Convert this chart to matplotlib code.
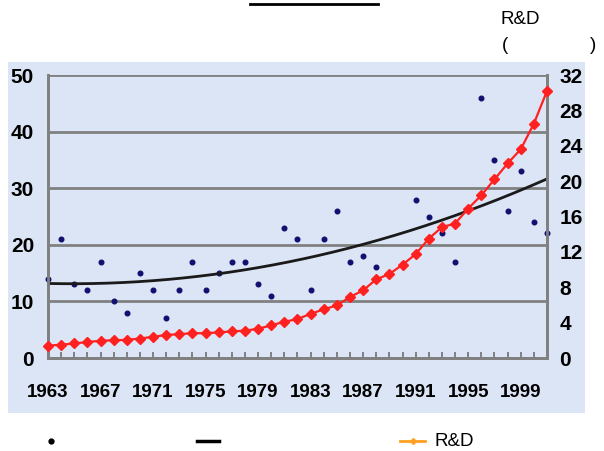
import numpy as np
import matplotlib.pyplot as plt
from matplotlib.patches import Rectangle
from matplotlib.lines import Line2D

# data
years = list(range(1963, 2002))
dots = [14, 21, 13, 12, 17, 10, 8, 15, 12, 7,
        12, 17, 12, 15, 17, 17, 13, 11, 23, 21,
        12, 21, 26, 17, 18, 16, np.nan, np.nan, 28, 25,
        22, 17, np.nan, 46, 35, 26, 33, 24, 22]
rnd = [1.4, 1.5, 1.65, 1.8, 1.95, 2.0, 2.05, 2.2, 2.4, 2.6,
       2.7, 2.8, 2.8, 2.9, 3.0, 3.1, 3.3, 3.7, 4.1, 4.4,
       5.0, 5.5, 5.95, 6.9, 7.65, 8.9, 9.5, 10.55, 11.75, 13.5,
       14.8, 15.2, 16.9, 18.4, 20.2, 22.0, 23.6, 26.5, 30.2]
year_labels = list(range(1963, 2000, 4))
left_ticks = [0, 10, 20, 30, 40, 50]
right_ticks = [0, 4, 8, 12, 16, 20, 24, 28, 32]

plt.rcParams['font.family'] = ['Liberation Sans', 'DejaVu Sans']

W, H = 604, 451
fig = plt.figure(figsize=(W / 100, H / 100), dpi=100)

# light blue panel behind the chart, in its own axes at the bottom
bg = fig.add_axes([0, 0, 1, 1], zorder=-5)
bg.set_xlim(0, W)
bg.set_ylim(H, 0)
bg.axis('off')
bg.add_patch(Rectangle((8, 62), 577, 351, facecolor='#dce5f5', edgecolor='none'))

ax = fig.add_axes([48 / W, 1 - 358 / H, 499 / W, 283 / H])
ax.set_facecolor('none')
ax2 = ax.twinx()

x = np.array(years)
y = np.array(dots, dtype=float)
ok = ~np.isnan(y)
coef = np.polyfit(x[ok] - 1963, y[ok], 2)
xs = np.linspace(1963, 2001, 200)
trend = np.polyval(coef, xs - 1963)

ax.scatter(x, y, s=11, color='#101070', zorder=3, clip_on=False)
ax.plot(xs, trend, color='#1a1a1a', lw=2, zorder=3)
ax2.plot(x, rnd, color='#ff2020', lw=1.6, marker='D', markersize=5.5,
         markeredgecolor='#ff2020', zorder=4, clip_on=False)

ax.set_xlim(1963, 2001)
ax.set_ylim(0, 50)
ax2.set_ylim(0, 32)

ax.set_yticks(left_ticks)
ax.grid(axis='y', color='#808080', lw=2)
ax.set_axisbelow(True)
ax.tick_params(axis='y', length=0, pad=10, labelsize=15)
for t in ax.get_yticklabels():
    t.set_fontweight('bold')

ax2.set_yticks(right_ticks)
ax2.tick_params(axis='y', length=0, pad=9, labelsize=15)
for t in ax2.get_yticklabels():
    t.set_fontweight('bold')

ax.set_xticks(year_labels)
ax.set_xticks(years, minor=True)
ax.set_xticklabels([str(v) for v in year_labels], fontsize=13.5, fontweight='bold')
ax.tick_params(axis='x', which='both', direction='in', length=4, width=1.2,
               color='#707070', pad=19)

for a in (ax, ax2):
    for s in a.spines.values():
        s.set_color('#808080')
        s.set_linewidth(2)
    a.spines['top'].set_visible(False)

# top texts (title glyphs are missing in the original, only the underline shows)
fig.add_artist(Line2D([250 / W, 378 / W], [1 - 3.5 / H, 1 - 3.5 / H],
                      color='black', lw=2))
fig.text(500 / W, 1 - 19 / H, 'R&D', fontsize=13.5, va='center', ha='left')
fig.text(502 / W, 1 - 46 / H, '(', fontsize=13.5, va='center', ha='left')
fig.text(590 / W, 1 - 46 / H, ')', fontsize=13.5, va='center', ha='left')

# legend row
yl = 1 - 441 / H
fig.add_artist(Line2D([51 / W], [yl], marker='o', markersize=3.5, color='black',
                      lw=0))
fig.add_artist(Line2D([197 / W, 219 / W], [yl, yl], color='black', lw=2.5))
fig.add_artist(Line2D([400 / W, 425 / W], [yl, yl], color='#ffa020', lw=2))
fig.add_artist(Line2D([412.5 / W], [yl], marker='D', markersize=3,
                      color='#ffa020', lw=0))
fig.text(434 / W, yl, 'R&D', fontsize=13.5, va='center', ha='left')

fig.savefig('out.png', dpi=100)
